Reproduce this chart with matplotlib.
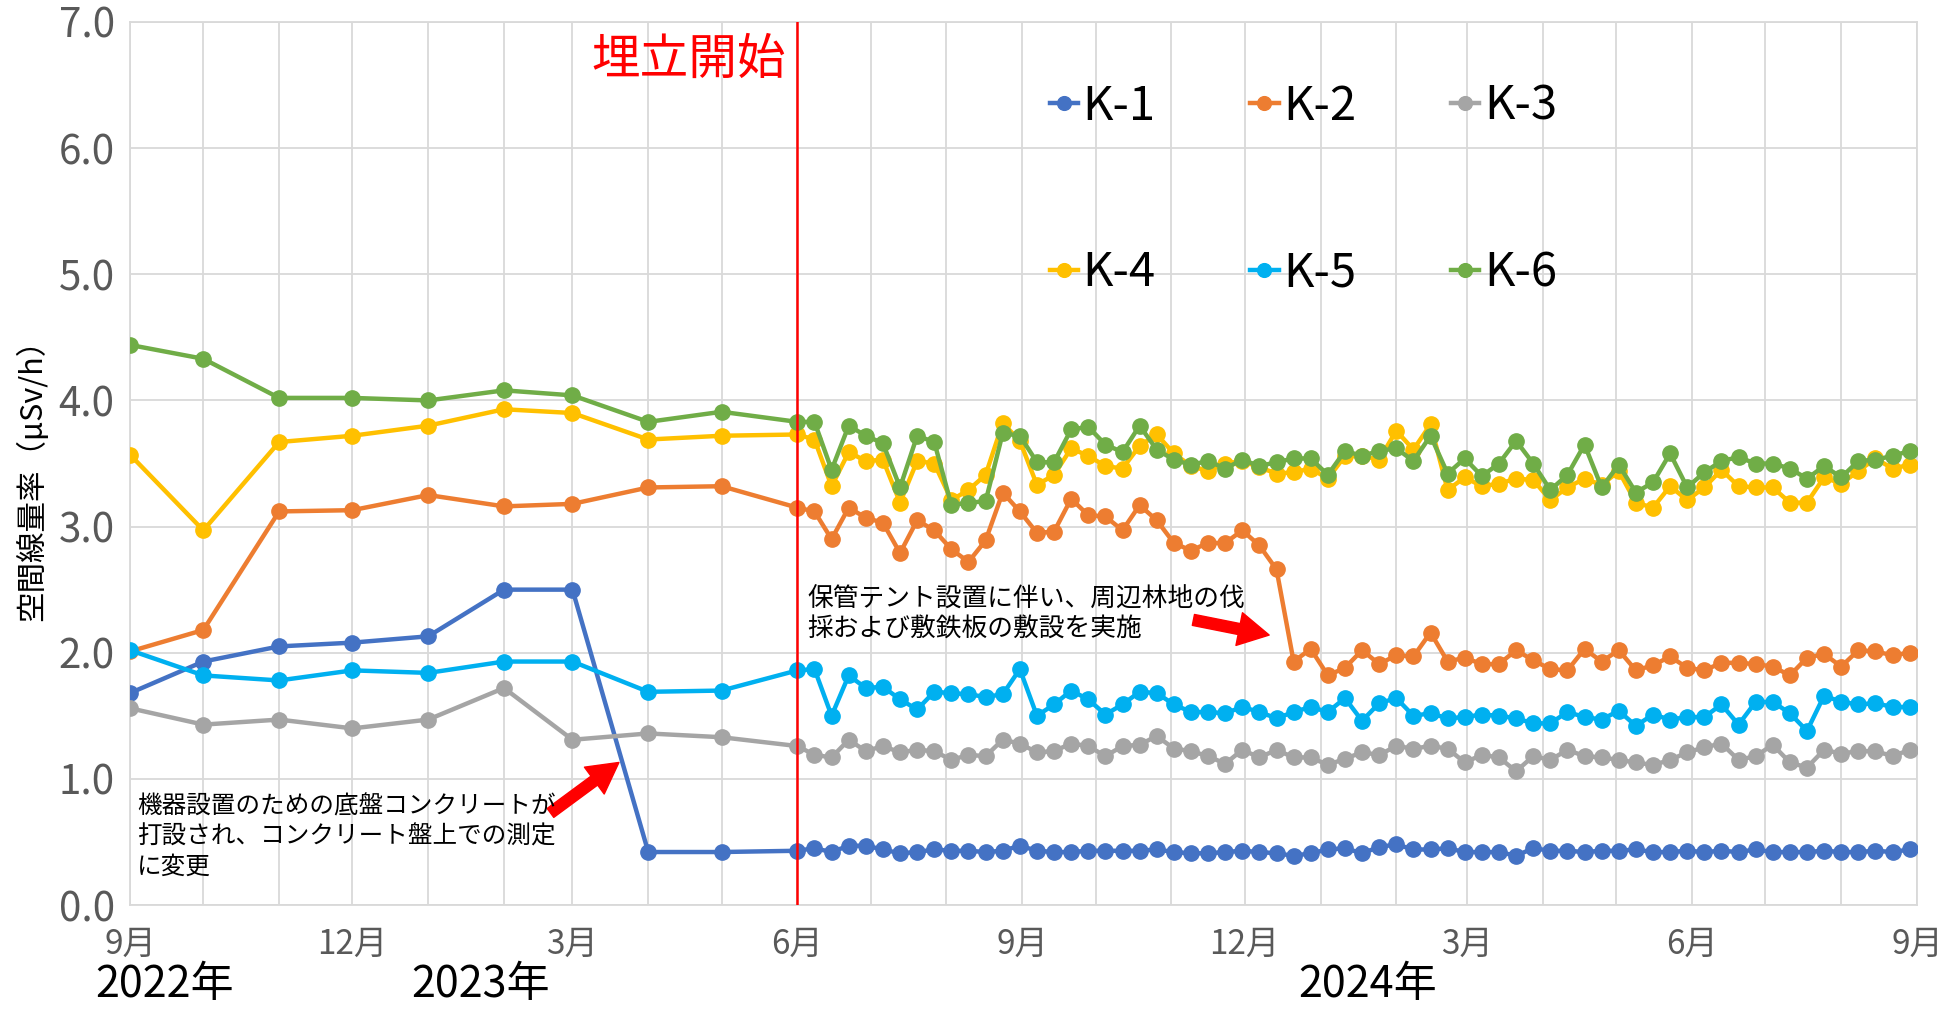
import matplotlib

matplotlib.use("Agg")
import matplotlib.dates as mdates
import matplotlib.pyplot as plt
import pandas as pd

plt.rcParams["font.family"] = ["Noto Sans CJK JP", "DejaVu Sans"]
NARROW = ["Liberation Sans Narrow", "Noto Sans CJK JP", "DejaVu Sans"]

# sampling calendar: monthly until May 2023, weekly from the start of landfill
monthly_dates = pd.date_range("2022-09-01", periods=9, freq="MS")
weekly_dates = pd.date_range("2023-06-01", periods=66, freq="7D")
dates = monthly_dates.append(weekly_dates)

series_names = ["K-1", "K-2", "K-3", "K-4", "K-5", "K-6"]
series_colors = ["#4472C4", "#ED7D31", "#A5A5A5", "#FFC000", "#00B0F0", "#70AD47"]

k1 = [1.68, 1.93, 2.05, 2.08, 2.13, 2.50, 2.50, 0.42, 0.42,
      0.43, 0.45, 0.42, 0.47, 0.47, 0.44, 0.41, 0.42, 0.44, 0.43,
      0.43, 0.42, 0.43, 0.47, 0.43, 0.42, 0.42, 0.43, 0.43, 0.43,
      0.43, 0.44, 0.42, 0.41, 0.41, 0.42, 0.43, 0.42, 0.41, 0.39,
      0.41, 0.44, 0.45, 0.41, 0.46, 0.48, 0.44, 0.44, 0.45, 0.42,
      0.42, 0.42, 0.39, 0.45, 0.43, 0.43, 0.42, 0.43, 0.43, 0.44,
      0.42, 0.42, 0.43, 0.42, 0.43, 0.42, 0.44, 0.42, 0.42, 0.42,
      0.43, 0.42, 0.42, 0.43, 0.42, 0.44]
k2 = [2.01, 2.18, 3.12, 3.13, 3.25, 3.16, 3.18, 3.31, 3.32,
      3.15, 3.12, 2.90, 3.15, 3.07, 3.03, 2.79, 3.05, 2.97, 2.82, 2.72,
      2.89, 3.27, 3.12, 2.95, 2.96, 3.22, 3.09, 3.08, 2.97, 3.17, 3.05,
      2.87, 2.81, 2.87, 2.87, 2.97, 2.85, 2.66, 1.93, 2.03, 1.82, 1.88,
      2.02, 1.91, 1.98, 1.97, 2.16, 1.93, 1.96, 1.91, 1.91, 2.02, 1.94,
      1.87, 1.86, 2.03, 1.93, 2.02, 1.86, 1.90, 1.97, 1.88, 1.86, 1.92,
      1.92, 1.91, 1.89, 1.82, 1.96, 1.99, 1.89, 2.02, 2.01, 1.98, 2.00]
k3 = [1.56, 1.43, 1.47, 1.40, 1.47, 1.72, 1.31, 1.36, 1.33,
      1.26, 1.19, 1.17, 1.31, 1.22, 1.26, 1.21, 1.23, 1.22, 1.15, 1.19,
      1.18, 1.31, 1.28, 1.21, 1.22, 1.28, 1.26, 1.18, 1.26, 1.27, 1.34,
      1.24, 1.22, 1.18, 1.12, 1.23, 1.17, 1.23, 1.17, 1.17, 1.11, 1.16,
      1.21, 1.19, 1.26, 1.24, 1.26, 1.24, 1.13, 1.19, 1.17, 1.06, 1.18,
      1.15, 1.23, 1.18, 1.17, 1.15, 1.13, 1.11, 1.15, 1.21, 1.25, 1.28,
      1.15, 1.18, 1.27, 1.13, 1.09, 1.23, 1.20, 1.22, 1.22, 1.18, 1.23]
k4 = [3.57, 2.97, 3.67, 3.72, 3.80, 3.93, 3.90, 3.69, 3.72,
      3.73, 3.69, 3.32, 3.59, 3.52, 3.53, 3.19, 3.52, 3.50, 3.21, 3.29,
      3.41, 3.82, 3.68, 3.33, 3.41, 3.62, 3.56, 3.48, 3.46, 3.64, 3.73,
      3.58, 3.48, 3.44, 3.50, 3.52, 3.47, 3.42, 3.43, 3.46, 3.38, 3.56,
      3.56, 3.53, 3.76, 3.61, 3.81, 3.29, 3.39, 3.32, 3.34, 3.38, 3.37,
      3.21, 3.31, 3.38, 3.33, 3.44, 3.19, 3.15, 3.32, 3.21, 3.31, 3.45,
      3.32, 3.31, 3.31, 3.19, 3.19, 3.39, 3.34, 3.44, 3.54, 3.46, 3.49]
k5 = [2.02, 1.82, 1.78, 1.86, 1.84, 1.93, 1.93, 1.69, 1.70,
      1.86, 1.87, 1.50, 1.82, 1.72, 1.73, 1.63, 1.55, 1.69, 1.68, 1.67,
      1.65, 1.67, 1.87, 1.50, 1.59, 1.70, 1.63, 1.51, 1.59, 1.69, 1.68,
      1.59, 1.53, 1.53, 1.52, 1.57, 1.53, 1.48, 1.53, 1.57, 1.53, 1.64,
      1.46, 1.60, 1.64, 1.50, 1.52, 1.48, 1.49, 1.51, 1.50, 1.48, 1.44,
      1.44, 1.53, 1.49, 1.47, 1.54, 1.42, 1.51, 1.47, 1.49, 1.49, 1.59,
      1.43, 1.61, 1.61, 1.52, 1.38, 1.66, 1.61, 1.59, 1.60, 1.57, 1.57]
k6 = [4.44, 4.33, 4.02, 4.02, 4.00, 4.08, 4.04, 3.83, 3.91,
      3.83, 3.83, 3.45, 3.80, 3.72, 3.66, 3.31, 3.72, 3.67, 3.17, 3.19,
      3.20, 3.74, 3.72, 3.51, 3.51, 3.77, 3.79, 3.65, 3.59, 3.80, 3.61,
      3.53, 3.49, 3.52, 3.46, 3.53, 3.48, 3.51, 3.54, 3.54, 3.41, 3.60,
      3.56, 3.60, 3.62, 3.52, 3.72, 3.42, 3.54, 3.40, 3.50, 3.68, 3.50,
      3.29, 3.41, 3.65, 3.31, 3.49, 3.27, 3.35, 3.58, 3.31, 3.43, 3.52,
      3.55, 3.50, 3.50, 3.46, 3.38, 3.48, 3.39, 3.52, 3.53, 3.56, 3.60]
series_values = [k1, k2, k3, k4, k5, k6]

tick_dates = pd.date_range("2022-09-01", "2024-09-01", freq="3MS")
tick_labels = [f"{d.month}月" for d in tick_dates]
y_ticks = [0, 1, 2, 3, 4, 5, 6, 7]
landfill_start = pd.Timestamp("2023-06-01")

note_concrete = "機器設置のための底盤コンクリートが\n打設され、コンクリート盤上での測定\nに変更"
note_tent = "保管テント設置に伴い、周辺林地の伐\n採および敷鉄板の敷設を実施"

GRID = "#D9D9D9"
TICK = "#595959"

fig = plt.figure(figsize=(19.54, 10.09), dpi=100)
ax = fig.add_axes([130 / 1954, 1 - 905 / 1009, 1787 / 1954, 883 / 1009])

for name, values, color in zip(series_names, series_values, series_colors):
    ax.plot(dates, values, color=color, lw=3.2, marker="o", markersize=11,
            markeredgecolor=color, label=name, zorder=3)

ax.axvline(landfill_start, color="red", lw=1.8, zorder=5)
ax.annotate("埋立開始", xy=(landfill_start, 6.70), xytext=(-8, 0),
            textcoords="offset points", ha="right", va="center",
            color="red", fontsize=35)

ax.set_xlim(pd.Timestamp("2022-09-01"), pd.Timestamp("2024-09-01"))
ax.set_ylim(0, 7)
ax.set_xticks(tick_dates, labels=tick_labels, fontfamily=NARROW, fontsize=24, color=TICK)
ax.set_yticks(y_ticks, labels=[f"{v:.1f}" for v in y_ticks], fontfamily=NARROW,
              fontsize=29, color=TICK)
ax.xaxis.set_minor_locator(mdates.MonthLocator())
ax.tick_params(which="both", length=0)
ax.tick_params(axis="x", pad=16)
ax.tick_params(axis="y", pad=11)
ax.grid(which="both", axis="x", color=GRID, lw=1.3)
ax.grid(which="major", axis="y", color=GRID, lw=1.3)
ax.set_axisbelow(True)
for spine in ax.spines.values():
    spine.set_color(GRID)
    spine.set_linewidth(1.3)
ax.set_ylabel("空間線量率（μSv/h）", fontsize=22, labelpad=10)
ax.yaxis.set_label_coords(-0.046, 0.49)

arrow = dict(arrowstyle="simple,head_length=1.1,head_width=1.2,tail_width=0.4",
             color="red", mutation_scale=20, shrinkA=0, shrinkB=0)
ax.annotate("", xy=(pd.Timestamp("2023-03-20"), 1.13),
            xytext=(pd.Timestamp("2023-02-20"), 0.73), arrowprops=arrow)
ax.annotate("", xy=(pd.Timestamp("2023-12-11"), 2.14),
            xytext=(pd.Timestamp("2023-11-10"), 2.26), arrowprops=arrow)
ax.text(pd.Timestamp("2022-09-04"), 0.88, note_concrete, fontsize=17.7,
        va="top", ha="left", linespacing=1.2, color="black")
ax.text(pd.Timestamp("2023-06-05"), 2.52, note_tent, fontsize=18.5,
        va="top", ha="left", linespacing=1.15, color="black")

# legend filled row by row: K-1 K-2 K-3 / K-4 K-5 K-6
handles, labels = ax.get_legend_handles_labels()
order = [0, 3, 1, 4, 2, 5]
fig.legend([handles[i] for i in order], [labels[i] for i in order],
           loc="center", bbox_to_anchor=(0.667, 0.812), ncol=3, frameon=False,
           prop={"family": NARROW, "size": 34}, handlelength=0.6,
           handletextpad=0.1, columnspacing=2.0, labelspacing=2.5,
           borderpad=0, markerscale=0.9)

for text, xpos in [("2022年", 165), ("2023年", 481), ("2024年", 1368)]:
    fig.text(xpos / 1954, 2 / 1009, text, fontsize=31, ha="center", va="bottom")

fig.savefig("out.png", dpi=100)
